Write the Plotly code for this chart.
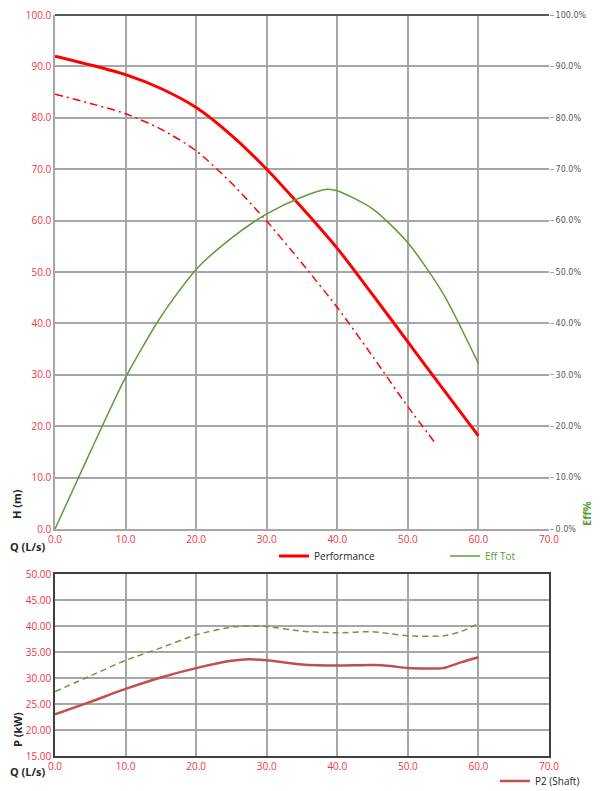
import plotly.graph_objects as go

# head curves
q_head = [0, 5, 10, 15, 20, 25, 30, 35, 40, 45, 50, 55, 60]
h_perf = [92.0, 90.3, 88.4, 85.7, 82.0, 76.6, 70.0, 62.5, 54.6, 45.6, 36.4, 27.2, 18.1]

q_head2 = [0, 5, 10, 15, 20, 25, 30, 35, 40, 45, 50, 54]
h_perf2 = [84.6, 82.8, 80.8, 77.8, 73.6, 67.3, 59.9, 51.7, 43.1, 33.6, 23.8, 16.5]

# efficiency
q_eff = [0, 5, 10, 15, 20, 25, 30, 35, 38.5, 40, 45, 50, 55, 60]
eff_tot = [0.0, 15.0, 29.5, 41.3, 50.5, 56.6, 61.3, 64.6, 66.1, 65.8, 62.3, 55.7, 45.8, 32.2]

# power
q_pow = [0, 5, 10, 15, 20, 25, 27.5, 30, 35, 40, 45, 47.5, 50, 55, 57.5, 60]
p2_shaft = [23.0, 25.4, 27.9, 30.1, 31.9, 33.3, 33.6, 33.4, 32.6, 32.4, 32.5, 32.3, 31.9, 31.9, 33.0, 34.0]
p1 = [27.4, 30.4, 33.4, 35.8, 38.3, 39.8, 40.0, 39.9, 39.0, 38.7, 38.9, 38.5, 38.1, 38.1, 38.9, 40.5]

RED_TXT = "#F0343F"
GRID = "#A6A6A6"
DARK = "#404040"
GREEN = "#5E9C3A"
TICKFONT = dict(family="Open Sans", size=10, color=RED_TXT)

# page has an 8px body margin, so the figure is a bit smaller than the window
OFF = 8
W, H = 600 - OFF, 791 - OFF


def px(xp):
    return (xp - OFF) / W


def py(yp):
    return (H - (yp - OFF)) / H


fig = go.Figure()

fig.add_trace(go.Scatter(x=q_head, y=h_perf, name="Performance", mode="lines",
                         line=dict(color="#FF0000", width=3, shape="spline", smoothing=0.7),
                         xaxis="x", yaxis="y", legend="legend"))
fig.add_trace(go.Scatter(x=q_head2, y=h_perf2, mode="lines", showlegend=False,
                         line=dict(color="#FF0000", width=1.5, dash="8px,4px,2px,4px",
                                   shape="spline", smoothing=0.7),
                         xaxis="x", yaxis="y"))
fig.add_trace(go.Scatter(x=q_eff, y=[e / 100 for e in eff_tot], name="Eff Tot", mode="lines",
                         line=dict(color=GREEN, width=1.5, shape="spline", smoothing=0.7),
                         xaxis="x", yaxis="y2", legend="legend2"))
fig.add_trace(go.Scatter(x=q_pow, y=p1, mode="lines", showlegend=False,
                         line=dict(color="#77933C", width=1.5, dash="6px,4px", shape="spline", smoothing=0.6),
                         xaxis="x2", yaxis="y3"))
fig.add_trace(go.Scatter(x=q_pow, y=p2_shaft, name="P2 (Shaft)", mode="lines",
                         line=dict(color="#C0504D", width=2.5, shape="spline", smoothing=0.6),
                         xaxis="x2", yaxis="y3", legend="legend3"))

fig.update_layout(
    width=W, height=H,
    margin=dict(l=0, r=0, t=0, b=0, autoexpand=False),
    paper_bgcolor="white", plot_bgcolor="white",
    xaxis=dict(domain=[px(55), px(549)], range=[0, 70], dtick=10, tickformat=".1f",
               showgrid=True, gridcolor=GRID, gridwidth=1.5, zeroline=False,
               showline=True, linecolor=GRID, linewidth=1.5, automargin=False,
               tickfont=TICKFONT, anchor="y"),
    yaxis=dict(domain=[py(529), py(15)], range=[0, 100], dtick=10, tickformat=".1f",
               showgrid=True, gridcolor=GRID, gridwidth=1.5, zeroline=False,
               showline=True, linecolor=GRID, linewidth=1.5, automargin=False,
               ticklabeloverflow="allow",
               tickfont=TICKFONT, anchor="x"),
    yaxis2=dict(overlaying="y", side="right", range=[0, 1], dtick=0.1, tickformat=".1%",
                showgrid=False, zeroline=False, showline=False, automargin=False,
                ticklabeloverflow="allow",
                ticks="outside", ticklen=4, tickcolor=GRID,
                tickfont=dict(family="DejaVu Sans", size=8, color="#595959"), anchor="x"),
    xaxis2=dict(domain=[px(55), px(549)], range=[0, 70], dtick=10, tickformat=".1f",
                showgrid=True, gridcolor=GRID, gridwidth=1.5, zeroline=False,
                showline=True, linecolor=DARK, linewidth=1.5, mirror=True, automargin=False,
                tickfont=TICKFONT, anchor="y3"),
    yaxis3=dict(domain=[py(756), py(574)], range=[15, 50], dtick=5, tickformat=".2f",
                showgrid=True, gridcolor=GRID, gridwidth=1.5, zeroline=False,
                showline=True, linecolor=DARK, linewidth=1.5, mirror=True, automargin=False,
                tickfont=TICKFONT, anchor="x2"),
    legend=dict(x=px(274), y=py(556), xanchor="left", yanchor="middle",
                font=dict(family="Open Sans", size=10, color="#262626"),
                bgcolor="rgba(0,0,0,0)", itemwidth=30),
    legend2=dict(x=px(445), y=py(556), xanchor="left", yanchor="middle",
                 font=dict(family="Open Sans", size=10, color=GREEN),
                 bgcolor="rgba(0,0,0,0)", itemwidth=30),
    legend3=dict(x=px(495), y=py(781), xanchor="left", yanchor="middle",
                 font=dict(family="Open Sans", size=10, color="#262626"),
                 bgcolor="rgba(0,0,0,0)", itemwidth=30),
    shapes=[dict(type="line", xref="x domain", yref="y domain", x0=0, x1=1, y0=1, y1=1,
                 line=dict(color="#595959", width=2))],
    annotations=[
        dict(text="<b>H (m)</b>", x=px(17), y=py(504), xref="paper", yref="paper",
             xanchor="center", yanchor="middle",
             textangle=-90, showarrow=False, font=dict(family="Open Sans", size=11, color="#262626")),
        dict(text="<b>Q (L/s)</b>", x=px(8), y=py(556), xref="paper", yref="paper", xanchor="left",
             showarrow=False, font=dict(family="Open Sans", size=11, color="#262626")),
        dict(text="<b>Eff%</b>", x=px(586), y=py(514), xref="paper", yref="paper",
             xanchor="center", yanchor="middle",
             textangle=-90, showarrow=False, font=dict(family="Open Sans", size=11, color=GREEN)),
        dict(text="<b>P (kW)</b>", x=px(17), y=py(730), xref="paper", yref="paper",
             xanchor="center", yanchor="middle",
             textangle=-90, showarrow=False, font=dict(family="Open Sans", size=11, color="#262626")),
        dict(text="<b>Q (L/s)</b>", x=px(8), y=py(781), xref="paper", yref="paper", xanchor="left",
             showarrow=False, font=dict(family="Open Sans", size=11, color="#262626")),
    ],
)

fig.write_html("out.html")
